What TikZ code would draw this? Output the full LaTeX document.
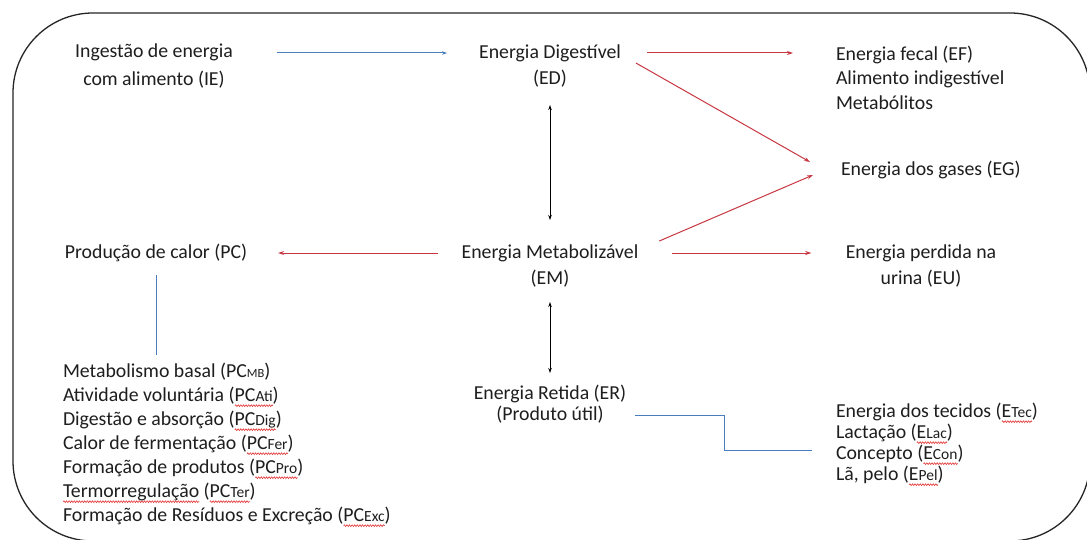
\documentclass[tikz,border=0pt]{standalone}
\usepackage{fontspec}
\setmainfont{Carlito}
\usetikzlibrary{arrows.meta,decorations.pathmorphing}
\definecolor{arrblue}{RGB}{74,126,187}
\definecolor{arrred}{RGB}{200,55,65}
\definecolor{wavered}{RGB}{225,40,40}
\definecolor{txt}{RGB}{30,30,30}
\newdimen\wavewd
\newsavebox\wavebox
\newcommand\redwave[1]{\sbox\wavebox{#1}\wavewd=\wd\wavebox\leavevmode\rlap{\lower4pt\hbox{\tikz[x=1pt,y=1pt,baseline=0pt]\draw[wavered,line width=0.55pt,decorate,decoration={zigzag,segment length=2.6pt,amplitude=0.9pt}] (0,0) -- (\the\wavewd,0);}}\usebox\wavebox}
\newcommand\sfx[1]{{\fontsize{15.5}{15.5}\selectfont #1}}
\newcommand\sfxs[1]{{\fontsize{12.5}{12.5}\selectfont #1}}
\begin{document}
\begin{tikzpicture}[x=1pt,y=-1pt,
  every node/.style={text=txt, inner sep=0pt, outer sep=0pt},
  tx/.style={font=\fontsize{19.8}{#1}\selectfont},
  redarr/.style={draw=arrred, line width=1pt, -{Stealth[length=6pt,width=4pt]}},
  bluearr/.style={draw=arrblue, line width=1pt, -{Stealth[length=5pt,width=3.5pt]}},
  blueline/.style={draw=arrblue, line width=1pt},
  duoarr/.style={draw=black, line width=0.9pt, {Stealth[length=5pt,width=3.5pt]}-{Stealth[length=5pt,width=3.5pt]}},
  frame/.style={draw=black!85, line width=1.3pt, rounded corners=80pt}
]
\fill[white] (0,0) rectangle (1087,540);
\useasboundingbox (0,0) rectangle (1087,540);
\begin{scope}
\clip (0,0) rectangle (1087,540);
\draw[frame] (13,13) rectangle (1090,541);
\end{scope}

\node[tx=28, align=center] (IE) at (154,66) {Ingestão de energia\\com alimento (IE)};
\node[tx=26, align=center] (ED) at (550,66) {Energia Digestível\\(ED)};
\node[tx=24.5, align=left, anchor=west] (EF) at (836,77.5) {Energia fecal (EF)\\Alimento indigestível\\Metabólitos};
\node[tx=26, anchor=west] (EG) at (841,170) {Energia dos gases (EG)};
\node[tx=26] (PC) at (156,253) {Produção de calor (PC)};
\node[tx=26, align=center] (EM) at (550,266) {Energia Metabolizável\\(EM)};
\node[tx=26, align=center] (EU) at (921,266) {Energia perdida na\\urina (EU)};
\node[tx=21, align=center] (ER) at (550,404.5) {Energia Retida (ER)\\(Produto útil)};
\node[tx=24, align=left, anchor=west] (LL) at (63,445) {Metabolismo basal (PC\sfxs{MB})\\
Atividade voluntária (\redwave{PC\sfx{Ati}})\\
Digestão e absorção (\redwave{PC\sfx{Dig}})\\
Calor de fermentação (\redwave{PC\sfx{Fer}})\\
Formação de produtos (\redwave{PC\sfx{Pro}})\\
\redwave{Termorregulação} (\redwave{PC\sfx{Ter}})\\
Formação de Resíduos e Excreção (\redwave{PC\sfx{Exc}})};
\node[tx=21, align=left, anchor=west] (RL) at (836,444.5) {Energia dos tecidos (\redwave{E\sfx{Tec}})\\
Lactação (\redwave{E\sfx{Lac}})\\
Concepto (\redwave{E\sfx{Con}})\\
Lã, pelo (\redwave{E\sfx{Pel}})};

\draw[bluearr] ([xshift=44pt,yshift=13pt]IE.east) -- ([xshift=-32pt,yshift=13pt]ED.west);
\draw[redarr] ([xshift=26pt,yshift=13pt]ED.east) -- ([xshift=-43pt,yshift=24.5pt]EF.west);
\draw[redarr] ([xshift=15pt,yshift=3pt]ED.east) -- ([xshift=-31pt,yshift=8pt]EG.west);
\draw[redarr] ([xshift=21pt,yshift=25pt]EM.east) -- ([xshift=-28pt,yshift=-5pt]EG.west);
\draw[redarr] ([xshift=-24pt,yshift=13pt]EM.west) -- ([xshift=31pt]PC.east);
\draw[redarr] ([xshift=34pt,yshift=13pt]EM.east) -- ([xshift=-34.5pt,yshift=13pt]EU.west);
\draw[duoarr, shorten <=39pt, shorten >=46pt] (ED.center) -- (EM.center);
\draw[duoarr, shorten <=36pt, shorten >=31.5pt] (EM.center) -- (ER.center);
\draw[blueline, shorten <=22pt, shorten >=90pt] (PC.center) -- (PC.center |- LL.west);
\draw[blueline] ([xshift=8.4pt,yshift=-10.5pt]ER.east) -- ++(90,0) |- ([xshift=-24pt,yshift=-5.5pt]RL.west);
\end{tikzpicture}
\end{document}
